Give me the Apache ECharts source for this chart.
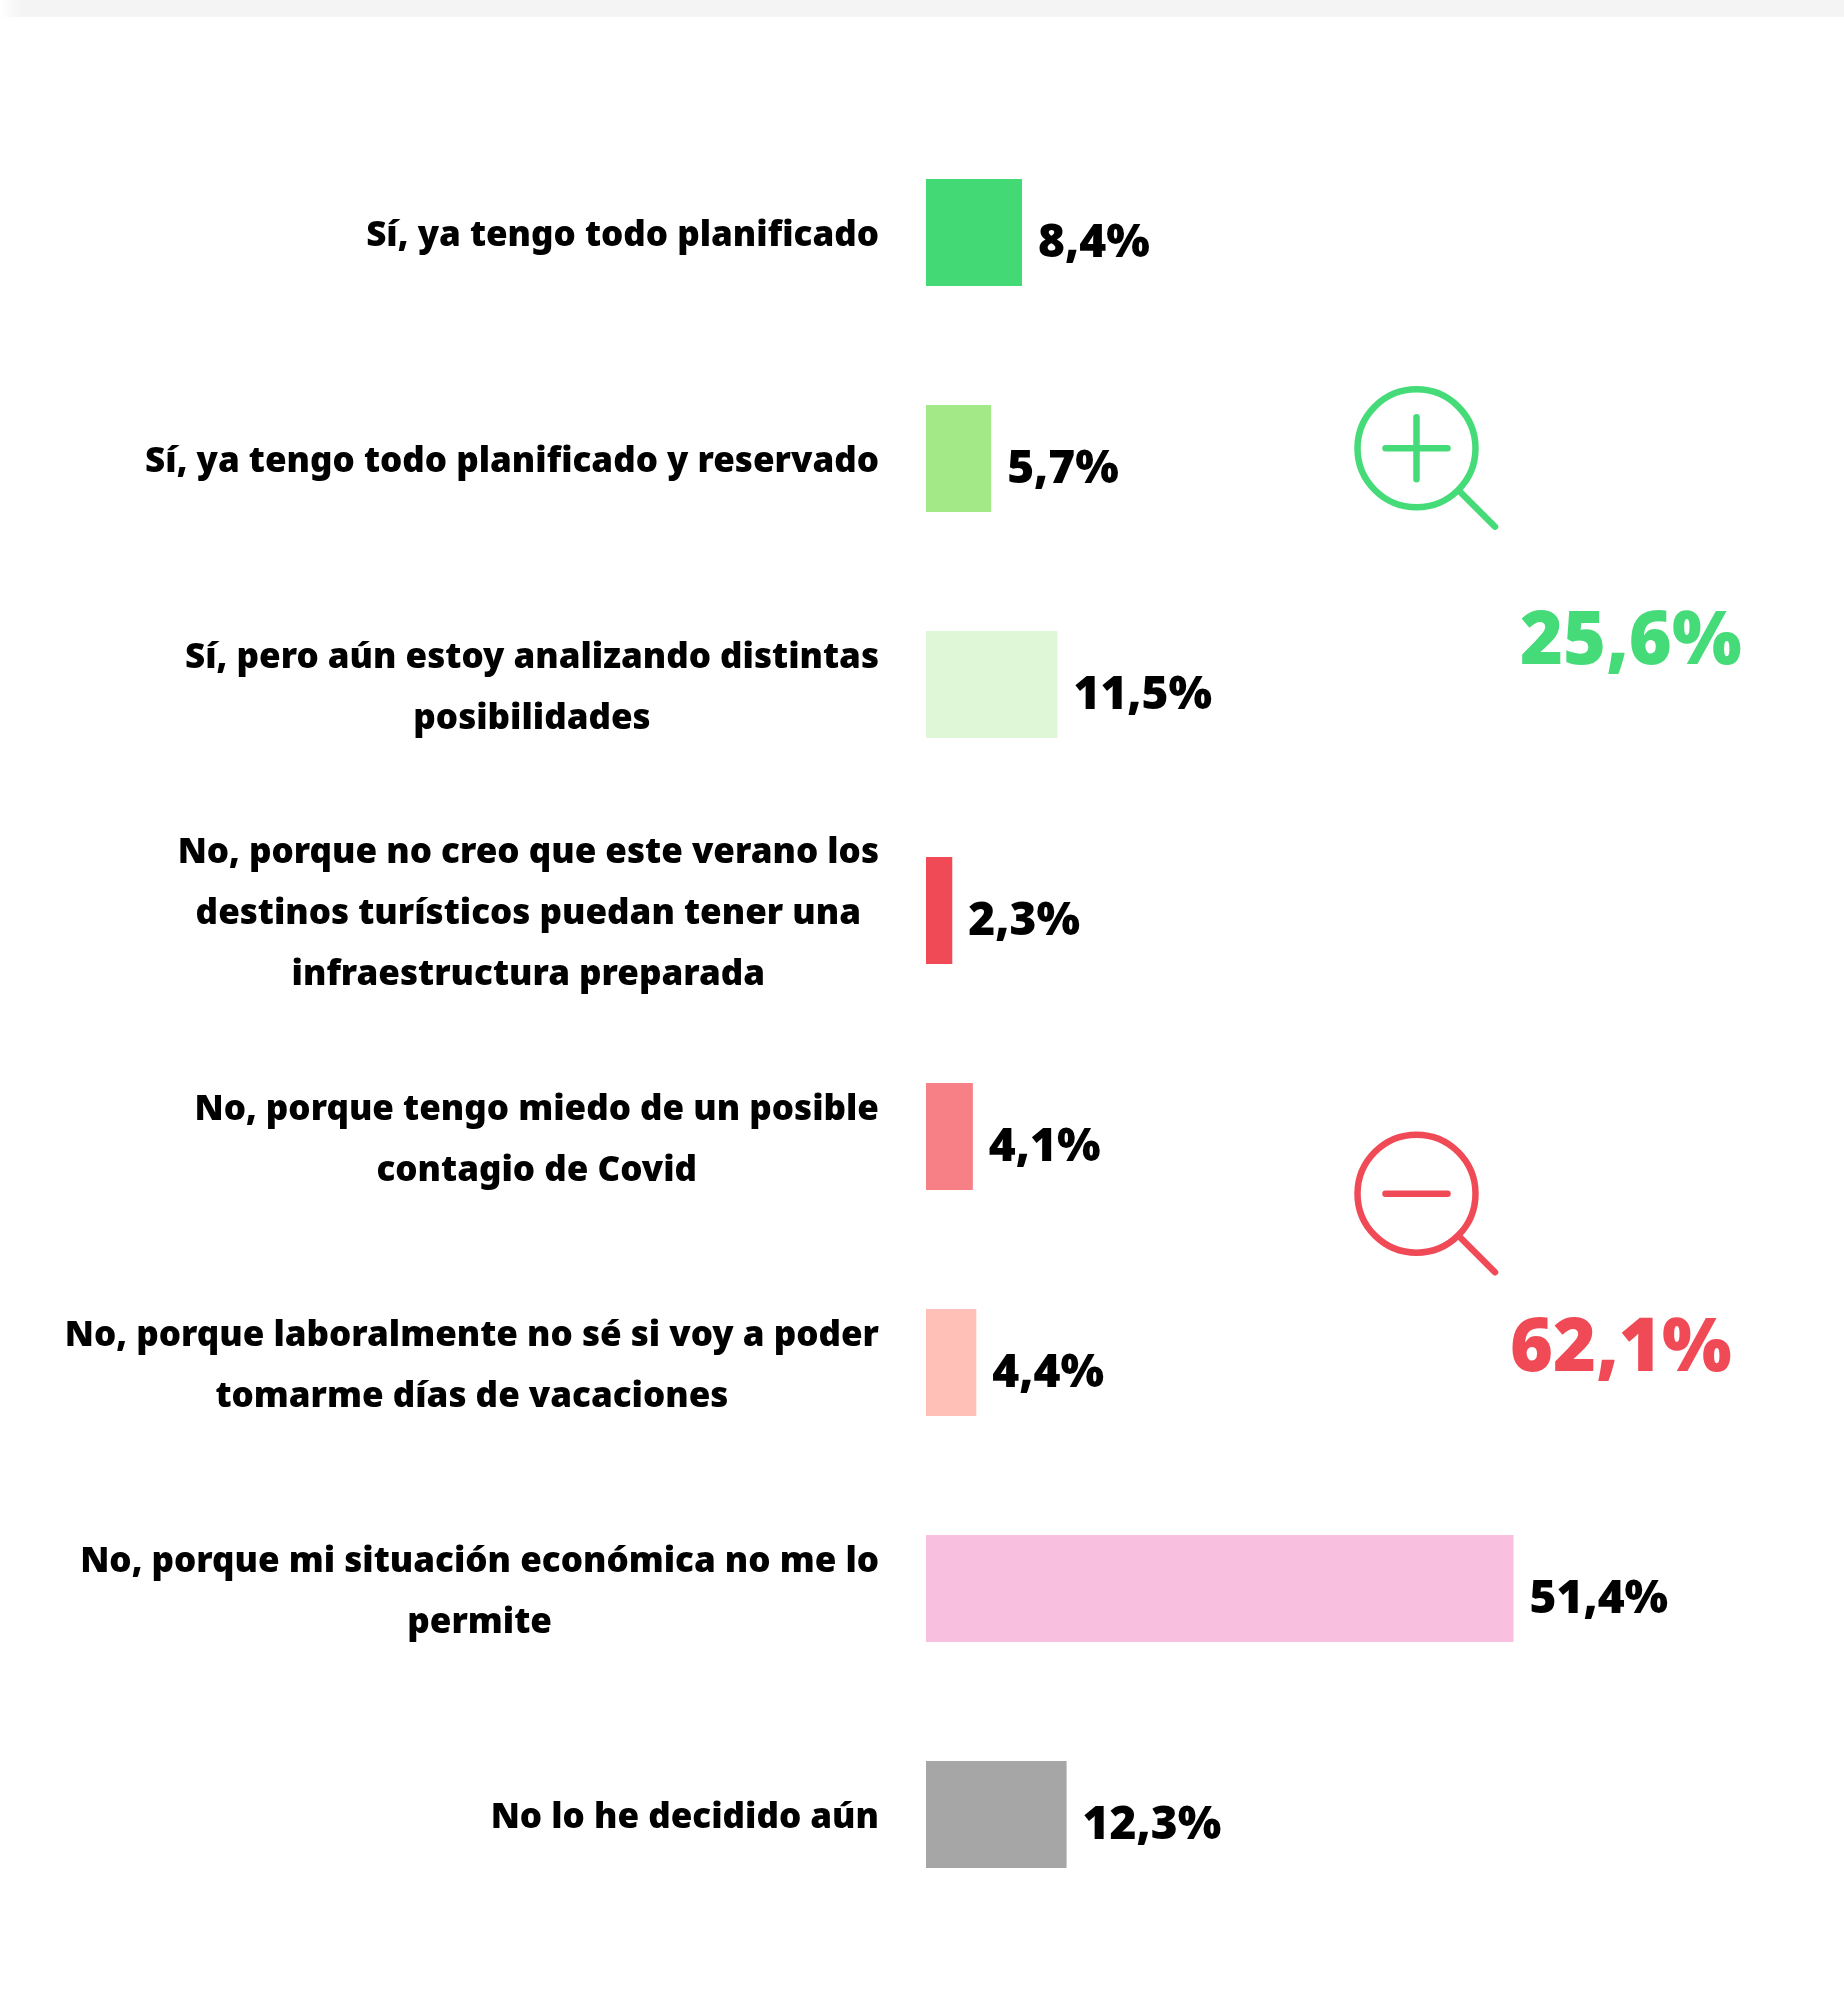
<!DOCTYPE html>
<html><head><meta charset="utf-8">
<style>html,body{margin:0;padding:0;background:#fff}#c{width:1844px;height:2003px}</style>
<script src="https://cdn.jsdelivr.net/npm/echarts@6/dist/echarts.min.js"></script>
</head><body><div id="c"></div>
<script>
const categories = [
  "Sí, ya tengo todo planificado",
  "Sí, ya tengo todo planificado y reservado",
  "Sí, pero aún estoy analizando distintas\nposibilidades",
  "No, porque no creo que este verano los\ndestinos turísticos puedan tener una\ninfraestructura preparada",
  "No, porque tengo miedo de un posible\ncontagio de Covid",
  "No, porque laboralmente no sé si voy a poder\ntomarme días de vacaciones",
  "No, porque mi situación económica no me lo\npermite",
  "No lo he decidido aún"
];
const values = [8.4, 5.7, 11.5, 2.3, 4.1, 4.4, 51.4, 12.3];
const colors = ["#43D975", "#A3E987", "#DFF7D6", "#F04A57", "#F77F86", "#FFC0B8", "#F9BFDE", "#A6A6A6"];
const totalYes = "25,6%";
const totalNo = "62,1%";
const FONT = "'Noto Sans'";
const GREEN = "#45DB79", RED = "#F04A57";

function loupe(cy, color, plus) {
  const s = {stroke: color, lineWidth: 6.5, fill: null, lineCap: "round"};
  const cx = 1416.5, items = [
    {type: "circle", shape: {cx, cy, r: 59}, style: {...s, fill: "transparent"}},
    {type: "line", shape: {x1: cx + 44, y1: cy + 44, x2: cx + 78.5, y2: cy + 78.5}, style: s},
    {type: "line", shape: {x1: cx - 31, y1: cy, x2: cx + 31, y2: cy}, style: s}
  ];
  if (plus) items.push({type: "line", shape: {x1: cx, y1: cy - 31, x2: cx, y2: cy + 31}, style: s});
  return items;
}
function bigText(text, x, y, color) {
  return {type: "text", x, y, style: {text, fill: color, font: "900 73.5px " + FONT, textAlign: "left", textVerticalAlign: "bottom"}};
}
const chart = echarts.init(document.getElementById("c"), null, {renderer: "canvas"});
chart.setOption({
  animation: false,
  backgroundColor: "#fff",
  grid: {left: 926, top: 119.6, width: 914.4, height: 1808, containLabel: false},
  xAxis: {type: "value", min: 0, max: 80, show: false},
  yAxis: {
    type: "category", inverse: true, data: categories,
    axisLine: {show: false}, axisTick: {show: false}, splitLine: {show: false},
    axisLabel: {
      interval: 0, margin: 47, align: "right", padding: [7, 0, 0, 0],
      formatter: v => v.split("\n").map(l => "{c|" + l + "}").join("\n"),
      rich: {c: {fontFamily: FONT, fontWeight: 900, fontSize: 35, lineHeight: 61, color: "#000", align: "center"}}
    }
  },
  series: [{
    type: "bar", barWidth: 107,
    data: values.map((v, i) => ({value: v, itemStyle: {color: colors[i]}})),
    label: {
      show: true, position: "right", distance: 16, offset: [0, 11],
      fontFamily: FONT, fontWeight: 900, fontSize: 46, color: "#000",
      formatter: p => p.value.toFixed(1).replace(".", ",") + "%"
    }
  }],
  graphic: [
    {type: "rect", shape: {x: 0, y: 0, width: 1844, height: 17}, style: {fill: new echarts.graphic.LinearGradient(0, 0, 1, 0, [{offset: 0, color: "#fff"}, {offset: 0.012, color: "#f4f4f4"}, {offset: 1, color: "#f4f4f4"}])}},
    ...loupe(448.3, GREEN, true),
    ...loupe(1193.7, RED, false),
    bigText(totalYes, 1520, 680, GREEN),
    bigText(totalNo, 1510, 1387, RED)
  ]
});
</script></body></html>
